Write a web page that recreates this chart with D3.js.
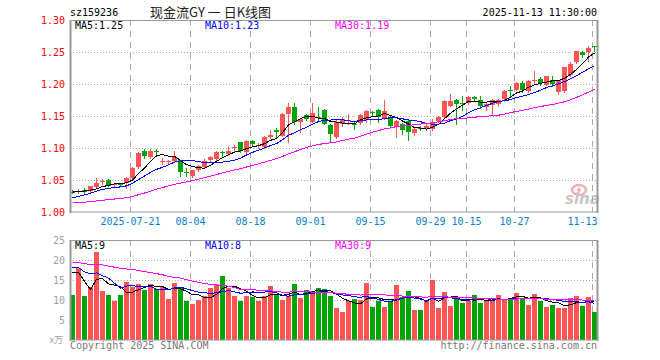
<!DOCTYPE html>
<html><head><meta charset="utf-8">
<script src="https://cdn.jsdelivr.net/npm/d3@7"></script>
<style>body{margin:0;background:#fff}svg{display:block}</style>
</head><body><svg id="c" width="660" height="360"></svg>
<script>
const dates = [
"2025-07-07","2025-07-08","2025-07-09","2025-07-10","2025-07-11","2025-07-14","2025-07-15","2025-07-16","2025-07-17","2025-07-18",
"2025-07-21","2025-07-22","2025-07-23","2025-07-24","2025-07-25","2025-07-28","2025-07-29","2025-07-30","2025-07-31","2025-08-01",
"2025-08-04","2025-08-05","2025-08-06","2025-08-07","2025-08-08","2025-08-11","2025-08-12","2025-08-13","2025-08-14","2025-08-15",
"2025-08-18","2025-08-19","2025-08-20","2025-08-21","2025-08-22","2025-08-25","2025-08-26","2025-08-27","2025-08-28","2025-08-29",
"2025-09-01","2025-09-02","2025-09-03","2025-09-04","2025-09-05","2025-09-08","2025-09-09","2025-09-10","2025-09-11","2025-09-12",
"2025-09-15","2025-09-16","2025-09-17","2025-09-18","2025-09-19","2025-09-22","2025-09-23","2025-09-24","2025-09-25","2025-09-26",
"2025-09-29","2025-09-30","2025-10-09","2025-10-10","2025-10-13","2025-10-14","2025-10-15","2025-10-16","2025-10-17","2025-10-20",
"2025-10-21","2025-10-22","2025-10-23","2025-10-24","2025-10-27","2025-10-28","2025-10-29","2025-10-30","2025-10-31","2025-11-03",
"2025-11-04","2025-11-05","2025-11-06","2025-11-07","2025-11-10","2025-11-11","2025-11-12","2025-11-13"];
const open = [1.032,1.032,1.034,1.033,1.039,1.047,1.050,1.042,1.043,1.046,
1.053,1.070,1.095,1.086,1.096,1.079,1.080,1.080,1.081,1.063,
1.056,1.066,1.071,1.081,1.083,1.094,1.090,1.100,1.109,1.094,
1.111,1.103,1.101,1.117,1.128,1.119,1.153,1.164,1.141,1.152,
1.141,1.149,1.160,1.136,1.117,1.138,1.142,1.138,1.139,1.143,
1.156,1.159,1.147,1.148,1.133,1.137,1.142,1.124,1.132,1.130,
1.129,1.142,1.149,1.166,1.175,1.170,1.170,1.180,1.175,1.164,
1.167,1.168,1.176,1.191,1.191,1.202,1.189,1.206,1.208,1.199,
1.206,1.187,1.189,1.214,1.235,1.250,1.250,1.259];
const high = [1.034,1.036,1.037,1.041,1.053,1.051,1.051,1.045,1.044,1.054,
1.070,1.093,1.099,1.098,1.099,1.084,1.081,1.095,1.082,1.068,
1.066,1.074,1.083,1.087,1.095,1.096,1.103,1.104,1.110,1.113,
1.113,1.108,1.118,1.128,1.132,1.154,1.171,1.171,1.146,1.153,
1.170,1.164,1.161,1.137,1.143,1.148,1.153,1.142,1.153,1.160,
1.158,1.161,1.175,1.150,1.144,1.139,1.143,1.132,1.135,1.137,
1.145,1.150,1.175,1.185,1.177,1.181,1.181,1.182,1.181,1.171,
1.177,1.177,1.190,1.197,1.203,1.204,1.206,1.220,1.211,1.213,
1.212,1.207,1.227,1.235,1.252,1.251,1.260,1.259];
const low = [1.029,1.029,1.029,1.032,1.038,1.044,1.040,1.041,1.040,1.038,
1.052,1.069,1.085,1.085,1.088,1.075,1.075,1.079,1.056,1.057,
1.054,1.064,1.069,1.080,1.082,1.088,1.089,1.096,1.093,1.092,
1.104,1.100,1.100,1.115,1.116,1.118,1.109,1.138,1.125,1.144,
1.140,1.143,1.137,1.109,1.116,1.135,1.137,1.130,1.138,1.141,
1.152,1.140,1.146,1.134,1.117,1.122,1.113,1.120,1.128,1.128,
1.128,1.141,1.148,1.165,1.138,1.159,1.169,1.173,1.163,1.160,
1.153,1.166,1.174,1.181,1.190,1.187,1.188,1.202,1.199,1.198,
1.197,1.184,1.188,1.213,1.233,1.242,1.236,1.251];
const close = [1.030,1.033,1.032,1.040,1.046,1.048,1.041,1.044,1.042,1.053,
1.069,1.092,1.087,1.096,1.094,1.080,1.080,1.086,1.062,1.062,
1.065,1.072,1.080,1.086,1.093,1.093,1.095,1.101,1.095,1.111,
1.106,1.105,1.117,1.121,1.125,1.153,1.164,1.141,1.145,1.145,
1.154,1.148,1.138,1.122,1.141,1.146,1.143,1.137,1.152,1.158,
1.155,1.148,1.158,1.135,1.142,1.128,1.125,1.130,1.131,1.134,
1.141,1.149,1.174,1.174,1.168,1.169,1.180,1.176,1.165,1.169,
1.175,1.175,1.189,1.189,1.202,1.190,1.205,1.207,1.201,1.212,
1.200,1.206,1.226,1.231,1.251,1.245,1.257,1.258];
const volume = [11.3,18.0,11.1,13.3,22.1,12.3,11.3,9.7,11.3,14.4,
13.2,14.1,12.6,14.1,12.8,13.3,10.3,14.3,13.3,9.7,
9.1,9.9,11.1,13.0,14.1,16.1,13.0,11.1,9.8,11.1,
10.8,9.8,11.1,13.6,11.3,10.1,10.9,14.1,10.5,12.6,
12.3,13.1,12.8,11.1,8.1,7.1,9.8,10.3,9.9,14.3,
8.3,9.8,8.3,9.6,13.8,10.8,12.3,7.6,7.6,9.8,
15.1,8.1,12.1,8.6,10.8,9.3,9.8,11.3,9.3,9.8,
9.8,11.3,10.3,10.6,11.8,10.6,8.8,11.6,9.8,8.3,
8.8,8.1,8.1,10.6,11.1,8.6,10.8,7.1];
// closes / volumes of the 29 sessions before the window (estimated from the MA lines)
const priorCloses = [1.010,1.012,1.015,1.016,1.014,1.013,1.015,1.016,1.015,1.014,
1.010,1.008,1.005,1.003,1.004,1.006,1.005,1.007,1.006,1.006,
1.008,1.010,1.013,1.016,1.018,1.026,1.030,1.033,1.036];
const priorVolumes = [18,20,19,21,17,20,18,19,20,18,
20,23,19,22,21,24,20,19,22,20,
19,21,18,20,19.5,17.2,22.4,23.5,9.4];
const tickDates = ["2025-07-21","2025-08-04","2025-08-18","2025-09-01","2025-09-15","2025-09-29","2025-10-15","2025-10-27","2025-11-13"];
const priceTicks = [1.00,1.05,1.10,1.15,1.20,1.25,1.30];
const volTicks = [5,10,15,20,25];
const maPeriods = [5,10,30];
const priceMaLabels = ["MA5:1.25","MA10:1.23","MA30:1.19"];
const volMaLabels = ["MA5:9","MA10:8","MA30:9"];
const code = "sz159236";
const title = "现金流GY 一 日K线图";
const stamp = "2025-11-13 11:30:00";

const RED = "#ff5454", GREEN = "#00a400";
const maColors = ["#000000","#0000ff","#ff00ff"];
const mono = "'DejaVu Sans Mono', monospace";
const L = 70, R = 597, PT = 20, PB = 212, VT = 240, VB = 340;

const svg = d3.select("#c");
const x = d3.scaleBand().domain(dates).range([L, R]).paddingInner(1/6).paddingOuter(0);
const y = d3.scaleLinear().domain([1.00, 1.30]).range([PB, PT]);
const yv = d3.scaleLinear().domain([0, 25]).range([VB, VT]);
const px = d => Math.round(x(d));

function ma(series, prior, n) {
  const all = prior.concat(series), off = prior.length;
  return series.map((_, i) => d3.mean(all.slice(off + i - n + 1, off + i + 1)));
}

// grids
function grid(top, bottom, hTicks, scale) {
  const g = svg.append("g");
  g.selectAll(".h").data(hTicks).join("line")
    .attr("x1", L).attr("x2", R)
    .attr("y1", d => Math.round(scale(d)) + 0.5).attr("y2", d => Math.round(scale(d)) + 0.5)
    .attr("stroke", "#aaa").attr("stroke-dasharray", "1,2");
  g.selectAll(".v").data(tickDates).join("line")
    .attr("x1", d => px(d) + 0.5).attr("x2", d => px(d) + 0.5)
    .attr("y1", top).attr("y2", bottom)
    .attr("stroke", "#aaa").attr("stroke-dasharray", "6,5");
}
grid(PT, PB, [1.05,1.10,1.15,1.20,1.25], y);
grid(VT, VB, [5,10,15,20], yv);

// sina watermark
const wm = svg.append("g").attr("opacity", 0.55);
wm.append("ellipse").attr("cx", 579).attr("cy", 190).attr("rx", 7).attr("ry", 5).attr("fill", "none").attr("stroke", "#f07070").attr("stroke-width", 2.5);
wm.append("circle").attr("cx", 579).attr("cy", 190).attr("r", 2).attr("fill", "#f07070");
wm.append("text").attr("x", 565).attr("y", 204).attr("font-family", "'DejaVu Sans', sans-serif")
  .attr("font-size", 15).attr("font-weight", "bold").attr("font-style", "italic").attr("fill", "#999").text("sina");

// candles
const idx = d3.range(dates.length);
const cg = svg.append("g").attr("shape-rendering", "crispEdges");
cg.selectAll("line").data(idx).join("line")
  .attr("x1", i => px(dates[i]) + 2.5).attr("x2", i => px(dates[i]) + 2.5)
  .attr("y1", i => Math.round(y(high[i]))).attr("y2", i => Math.round(y(low[i])) + 1)
  .attr("stroke", i => close[i] >= open[i] ? RED : GREEN);
cg.selectAll("rect").data(idx).join("rect")
  .attr("x", i => px(dates[i])).attr("width", 5)
  .attr("y", i => Math.round(y(Math.max(open[i], close[i]))))
  .attr("height", i => Math.max(1, Math.round(y(Math.min(open[i], close[i]))) - Math.round(y(Math.max(open[i], close[i])))))
  .attr("fill", i => close[i] >= open[i] ? RED : GREEN);

// volume bars
svg.append("g").attr("shape-rendering", "crispEdges").selectAll("rect").data(idx).join("rect")
  .attr("x", i => px(dates[i])).attr("width", 5)
  .attr("y", i => Math.round(yv(volume[i]))).attr("height", i => VB - Math.round(yv(volume[i])))
  .attr("fill", i => close[i] >= open[i] ? RED : GREEN);

// MA lines
function maLines(series, prior, scale) {
  maPeriods.forEach((n, k) => {
    const m = ma(series, prior, n);
    svg.append("path").datum(idx)
      .attr("d", d3.line().x(i => px(dates[i]) + 2.5).y(i => scale(m[i])))
      .attr("fill", "none").attr("stroke", maColors[k]).attr("stroke-width", 1)
      .attr("shape-rendering", "crispEdges");
  });
}
maLines(close, priorCloses, y);
maLines(volume, priorVolumes, yv);

// frames
[[PT, PB], [VT, VB]].forEach(([t, b]) => {
  svg.append("rect").attr("x", L + 0.5).attr("y", t + 0.5).attr("width", R - L).attr("height", b - t - 0.5)
    .attr("fill", "none").attr("stroke", "#999").attr("stroke-width", 1);
  [L, R].forEach(xx => svg.append("line").attr("x1", xx + 0.5).attr("x2", xx + 0.5).attr("y1", t).attr("y2", b + 1)
    .attr("stroke", "#999").attr("stroke-width", 2));
});

// axes
const ay = svg.append("g").attr("transform", `translate(${L},0)`)
  .call(d3.axisLeft(y).tickValues(priceTicks).tickFormat(d3.format(".2f")).tickSize(0).tickPadding(5));
ay.select(".domain").remove();
ay.selectAll("text").attr("fill", "#f00").attr("font-family", mono).attr("font-size", 10);

const av = svg.append("g").attr("transform", `translate(${L},0)`)
  .call(d3.axisLeft(yv).tickValues(volTicks).tickSize(0).tickPadding(5));
av.select(".domain").remove();
av.selectAll("text").attr("fill", "#a0a0a0").attr("font-family", mono).attr("font-size", 10);

const ax = svg.append("g").attr("transform", `translate(-2,${PB})`)
  .call(d3.axisBottom(x).tickValues(tickDates).tickSize(0).tickPadding(6)
    .tickFormat((d, i) => i === 0 ? d : d.slice(5)));
ax.select(".domain").remove();
ax.selectAll("text").attr("fill", "#0a80d0").attr("font-family", mono).attr("font-size", 10);
// last label would overflow the frame: right-align it to its grid line
ax.selectAll(".tick").filter(d => d === tickDates[tickDates.length - 1])
  .select("text").attr("text-anchor", "end").attr("dx", "0.5em");

// texts
const T = (xx, yy, s, fill, anchor, font, size) => svg.append("text").attr("x", xx).attr("y", yy)
  .attr("fill", fill).attr("text-anchor", anchor || "start").attr("font-family", font || mono)
  .attr("font-size", size || 10).attr("xml:space", "preserve").text(s);
T(70, 16, code, "#000");
T(150, 17, title, "#222", "start", "'Noto Sans CJK SC', sans-serif", 13);
T(597, 16, stamp, "#000", "end");
const legX = [75, 205, 335];
priceMaLabels.forEach((s, k) => T(legX[k], 29, s, maColors[k]));
volMaLabels.forEach((s, k) => T(legX[k], 249, s, maColors[k]));
T(63, 343, "x万", "#a0a0a0", "end", "'Noto Sans CJK SC', sans-serif", 9);
T(70, 349, "Copyright 2025 SINA.COM", "#777");
T(597, 349, "http://finance.sina.com.cn", "#777", "end");
</script></body></html>
